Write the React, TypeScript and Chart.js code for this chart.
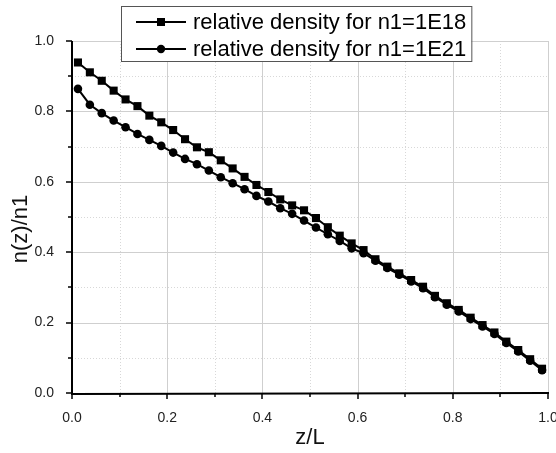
import React, { useEffect, useRef } from "react";
import { Chart, registerables } from "chart.js";

Chart.register(...registerables);

const zValues = [
  0.0125, 0.0375, 0.0625, 0.0875, 0.1125, 0.1375, 0.1625, 0.1875, 0.2125, 0.2375,
  0.2625, 0.2875, 0.3125, 0.3375, 0.3625, 0.3875, 0.4125, 0.4375, 0.4625, 0.4875,
  0.5125, 0.5375, 0.5625, 0.5875, 0.6125, 0.6375, 0.6625, 0.6875, 0.7125, 0.7375,
  0.7625, 0.7875, 0.8125, 0.8375, 0.8625, 0.8875, 0.9125, 0.9375, 0.9625, 0.9875,
];
const density1E18 = [
  0.939, 0.911, 0.887, 0.859, 0.834, 0.815, 0.788, 0.769, 0.747, 0.721,
  0.698, 0.684, 0.661, 0.638, 0.614, 0.591, 0.571, 0.550, 0.533, 0.519,
  0.497, 0.471, 0.447, 0.425, 0.406, 0.380, 0.359, 0.340, 0.321, 0.302,
  0.276, 0.255, 0.236, 0.214, 0.193, 0.172, 0.146, 0.122, 0.096, 0.069,
];
const density1E21 = [
  0.864, 0.819, 0.795, 0.774, 0.755, 0.736, 0.719, 0.702, 0.683, 0.665,
  0.650, 0.632, 0.613, 0.596, 0.579, 0.560, 0.544, 0.525, 0.509, 0.490,
  0.470, 0.451, 0.432, 0.411, 0.397, 0.376, 0.355, 0.336, 0.317, 0.298,
  0.272, 0.251, 0.232, 0.210, 0.189, 0.168, 0.142, 0.118, 0.092, 0.065,
];
const seriesLabels = ["relative density for n1=1E18", "relative density for n1=1E21"];
const majorTicks = [0, 0.2, 0.4, 0.6, 0.8, 1.0];
const minorTicks = [0.1, 0.3, 0.5, 0.7, 0.9];
const xTitle = "z/L";
const yTitle = "n(z)/n1";

const FONT = "'Liberation Sans', Arial, sans-serif";

const customPlugin = {
  id: "customDecor",
  beforeDatasetsDraw(chart: any) {
    const { ctx, chartArea, scales } = chart;
    const { left, right, top, bottom } = chartArea;
    const x = scales.x;
    const y = scales.y;
    ctx.save();
    ctx.strokeStyle = "#d8d8d8";
    ctx.lineWidth = 1;
    ctx.setLineDash([1, 2]);
    for (const v of minorTicks) {
      const px = Math.round(x.getPixelForValue(v)) + 0.5;
      ctx.beginPath();
      ctx.moveTo(px, top);
      ctx.lineTo(px, bottom);
      ctx.stroke();
      const py = Math.round(y.getPixelForValue(v)) + 0.5;
      ctx.beginPath();
      ctx.moveTo(left, py);
      ctx.lineTo(right, py);
      ctx.stroke();
    }
    ctx.setLineDash([]);
    ctx.strokeStyle = "#cfcfcf";
    for (const v of majorTicks) {
      const px = Math.round(x.getPixelForValue(v)) + 0.5;
      ctx.beginPath();
      ctx.moveTo(px, top);
      ctx.lineTo(px, bottom);
      ctx.stroke();
      const py = Math.round(y.getPixelForValue(v)) + 0.5;
      ctx.beginPath();
      ctx.moveTo(left, py);
      ctx.lineTo(right, py);
      ctx.stroke();
    }
    ctx.strokeStyle = "#000";
    ctx.lineWidth = 2;
    const bx = Math.round(x.getPixelForValue(0));
    const by = Math.round(y.getPixelForValue(0));
    ctx.beginPath();
    ctx.moveTo(bx, top);
    ctx.lineTo(bx, by + 1);
    ctx.lineTo(right + 1, by);
    ctx.stroke();
    ctx.lineWidth = 1.5;
    for (const v of majorTicks) {
      const px = Math.round(x.getPixelForValue(v));
      ctx.beginPath();
      ctx.moveTo(px, by);
      ctx.lineTo(px, by + 6);
      ctx.stroke();
      const py = Math.round(y.getPixelForValue(v));
      ctx.beginPath();
      ctx.moveTo(bx, py);
      ctx.lineTo(bx - 6, py);
      ctx.stroke();
    }
    for (const v of minorTicks) {
      const px = Math.round(x.getPixelForValue(v));
      ctx.beginPath();
      ctx.moveTo(px, by);
      ctx.lineTo(px, by + 4);
      ctx.stroke();
      const py = Math.round(y.getPixelForValue(v));
      ctx.beginPath();
      ctx.moveTo(bx, py);
      ctx.lineTo(bx - 4, py);
      ctx.stroke();
    }
    ctx.fillStyle = "#111";
    ctx.font = `22px ${FONT}`;
    ctx.textAlign = "center";
    ctx.textBaseline = "middle";
    ctx.fillText(xTitle, (left + right) / 2, 438);
    ctx.save();
    ctx.translate(21, (top + bottom) / 2 + 12);
    ctx.rotate(-Math.PI / 2);
    ctx.fillText(yTitle, 0, 0);
    ctx.restore();
    ctx.restore();
  },
  afterDatasetsDraw(chart: any) {
    const { ctx } = chart;
    ctx.save();
    ctx.font = `22px ${FONT}`;
    const boxLeft = 121;
    const boxTop = 6;
    const textX = 193;
    const w = Math.max(...seriesLabels.map((s) => ctx.measureText(s).width));
    const boxRight = textX + w + 5;
    const boxBottom = 61;
    ctx.fillStyle = "#fff";
    ctx.fillRect(boxLeft, boxTop, boxRight - boxLeft, boxBottom - boxTop);
    ctx.strokeStyle = "#555";
    ctx.lineWidth = 1;
    ctx.strokeRect(boxLeft + 0.5, boxTop + 0.5, boxRight - boxLeft, boxBottom - boxTop);
    const rows = [22, 49];
    seriesLabels.forEach((label, i) => {
      const ry = rows[i];
      ctx.strokeStyle = "#000";
      ctx.lineWidth = 2;
      ctx.beginPath();
      ctx.moveTo(136, ry);
      ctx.lineTo(186, ry);
      ctx.stroke();
      ctx.fillStyle = "#000";
      if (i === 0) {
        ctx.fillRect(161 - 4, ry - 4, 8, 8);
      } else {
        ctx.beginPath();
        ctx.arc(161, ry, 4.2, 0, Math.PI * 2);
        ctx.fill();
      }
      ctx.fillStyle = "#000";
      ctx.textAlign = "left";
      ctx.textBaseline = "middle";
      ctx.fillText(label, textX, ry + 1);
    });
    ctx.restore();
  },
};

export default function App() {
  const canvasRef = useRef<HTMLCanvasElement | null>(null);
  useEffect(() => {
    const canvas = canvasRef.current;
    if (!canvas) return;
    const chart = new Chart(canvas, {
      type: "line",
      data: {
        datasets: [
          {
            label: seriesLabels[0],
            data: zValues.map((z, i) => ({ x: z, y: density1E18[i] })),
            borderColor: "#000",
            backgroundColor: "#000",
            borderWidth: 2,
            pointStyle: "rect",
            pointRadius: 5.7,
            pointBorderWidth: 0,
            tension: 0,
          },
          {
            label: seriesLabels[1],
            data: zValues.map((z, i) => ({ x: z, y: density1E21[i] })),
            borderColor: "#000",
            backgroundColor: "#000",
            borderWidth: 2,
            pointStyle: "circle",
            pointRadius: 4.3,
            pointBorderWidth: 0,
            tension: 0,
          },
        ],
      },
      options: {
        responsive: false,
        animation: false,
        layout: { padding: { left: 0, top: 41, right: 8, bottom: 0 } },
        plugins: { legend: { display: false }, tooltip: { enabled: false } },
        scales: {
          x: {
            type: "linear",
            min: 0,
            max: 1,
            grid: { display: false },
            border: { display: false },
            afterFit: (s: any) => {
              s.height = 60;
              s.paddingLeft = 0;
              s.paddingRight = 0;
            },
            afterBuildTicks: (s: any) => {
              s.ticks = majorTicks.map((v) => ({ value: v }));
            },
            ticks: {
              padding: 9,
              color: "#222",
              font: { family: FONT, size: 14 },
              callback: (v: any) => Number(v).toFixed(1),
              maxRotation: 0,
            },
          },
          y: {
            type: "linear",
            min: 0,
            max: 1,
            grid: { display: false },
            border: { display: false },
            afterFit: (s: any) => {
              s.width = 72;
              s.paddingTop = 0;
              s.paddingBottom = 0;
            },
            afterBuildTicks: (s: any) => {
              s.ticks = majorTicks.map((v) => ({ value: v }));
            },
            ticks: {
              padding: 10,
              color: "#222",
              font: { family: FONT, size: 14 },
              callback: (v: any) => Number(v).toFixed(1),
            },
          },
        },
      },
      plugins: [customPlugin],
    });
    return () => chart.destroy();
  }, []);
  return (
    <div style={{ position: "absolute", left: 0, top: 0, width: 556, height: 453, background: "#fff" }}>
      <canvas ref={canvasRef} width={556} height={453} style={{ display: "block", width: 556, height: 453 }} />
    </div>
  );
}
